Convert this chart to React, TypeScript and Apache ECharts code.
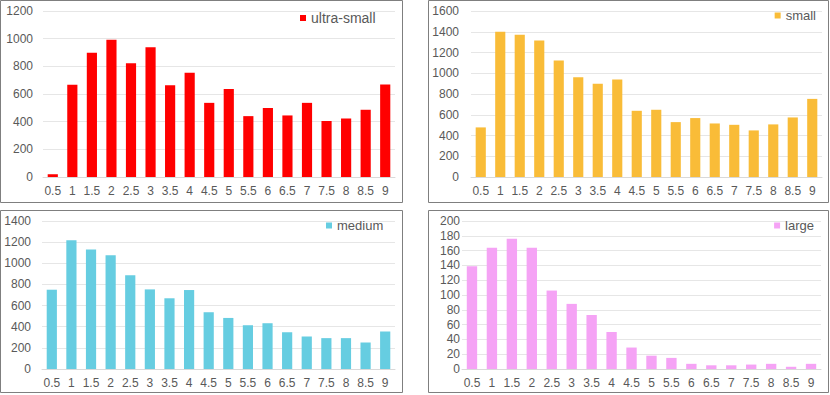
import React, { useEffect, useRef } from "react";
import * as echarts from "echarts";

const categories = ["0.5", "1", "1.5", "2", "2.5", "3", "3.5", "4", "4.5", "5", "5.5", "6", "6.5", "7", "7.5", "8", "8.5", "9"];
const ultraSmall = [20, 666, 899, 993, 822, 938, 664, 753, 536, 637, 440, 498, 445, 536, 404, 423, 486, 668];
const small = [478, 1401, 1372, 1315, 1122, 962, 898, 939, 638, 648, 529, 568, 516, 503, 449, 507, 574, 753];
const medium = [750, 1218, 1130, 1077, 888, 753, 669, 747, 537, 483, 414, 433, 348, 308, 292, 292, 251, 355];
const large = [139, 164, 176, 164, 106, 88, 73, 50, 29, 18, 15, 7, 5, 5, 6, 7, 3, 7];

const seriesNames = ["ultra-small", "small", "medium", "large"];
const seriesData = [ultraSmall, small, medium, large];
const colors = ["#FF0000", "#F9BC38", "#66CDE1", "#F5A3F5"];
const yMax = [1200, 1600, 1400, 200];
const yInterval = [200, 200, 200, 20];

const FONT = "Liberation Sans";
const TEXT = "#595959";

export default function App() {
  const ref = useRef<HTMLDivElement>(null);
  useEffect(() => {
    if (!ref.current) return;
    const chart = echarts.init(ref.current, null, { renderer: "svg" });
    const grids = [
      { left: 43, top: 11, width: 352, height: 166 },
      { left: 471, top: 11, width: 351, height: 166 },
      { left: 42, top: 221, width: 353, height: 148 },
      { left: 462, top: 221, width: 359, height: 148 },
    ];
    const yLabelMargin = [10, 12, 11, 2];
    const legendPos: any[] = [
      { left: 300, top: 11 },
      { right: 14, top: 9 },
      { left: 326, top: 219 },
      { right: 16, top: 219 },
    ];
    const legendFont = [14, 13, 13, 13];
    const borders = [
      [0.5, 0.5, 402, 202],
      [428.5, 0.5, 400, 202],
      [0.5, 210.5, 402, 182],
      [428.5, 210.5, 400, 182],
    ];
    chart.setOption({
      animation: false,
      textStyle: { fontFamily: FONT },
      grid: grids.map((g) => ({ ...g, containLabel: false })),
      legend: seriesNames.map((n, i) => ({
        data: [n],
        ...legendPos[i],
        orient: "horizontal",
        icon: "rect",
        itemWidth: 6,
        itemHeight: 6,
        padding: 0,
        selectedMode: false,
        textStyle: { fontSize: legendFont[i], color: TEXT, fontFamily: FONT },
      })),
      xAxis: seriesNames.map((_, i) => ({
        type: "category",
        gridIndex: i,
        data: categories,
        axisTick: { show: false },
        axisLine: { show: true, lineStyle: { color: "#D9D9D9", width: 1 } },
        axisLabel: { color: TEXT, fontSize: 12, margin: 8, interval: 0, fontFamily: FONT },
        splitLine: { show: false },
      })),
      yAxis: seriesNames.map((_, i) => ({
        type: "value",
        gridIndex: i,
        min: 0,
        max: yMax[i],
        interval: yInterval[i],
        axisLine: { show: false },
        axisTick: { show: false },
        axisLabel: {
          color: TEXT,
          fontSize: 12,
          margin: yLabelMargin[i],
          fontFamily: FONT,
          formatter: (v: number) => String(v),
        },
        splitLine: { show: true, lineStyle: { color: "#E6E6E6", width: 1 } },
      })),
      series: seriesNames.map((n, i) => ({
        name: n,
        type: "bar",
        xAxisIndex: i,
        yAxisIndex: i,
        data: seriesData[i],
        barWidth: "52%",
        itemStyle: { color: colors[i] },
      })),
      graphic: borders.map((b) => ({
        type: "rect",
        shape: { x: b[0], y: b[1], width: b[2], height: b[3] },
        style: { fill: "none", stroke: "#7F7F7F", lineWidth: 1 },
        silent: true,
      })),
    });
    return () => chart.dispose();
  }, []);
  return (
    <div
      ref={ref}
      style={{ position: "fixed", left: 0, top: 0, width: 830, height: 395, background: "#fff" }}
    />
  );
}
